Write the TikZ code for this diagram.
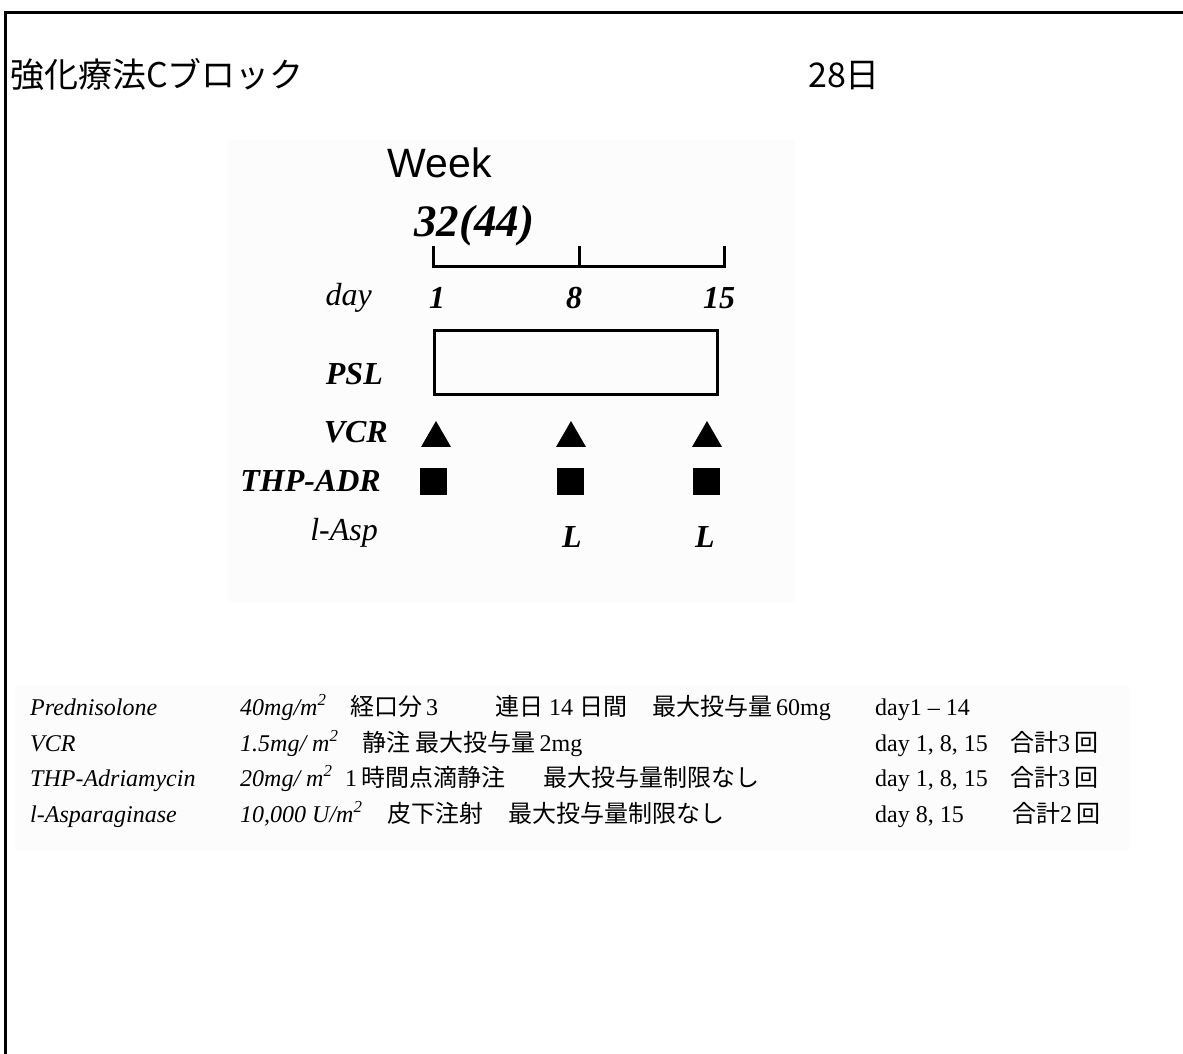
\documentclass[tikz,border=0pt]{standalone}
\usepackage{fontspec}
\setmainfont{Liberation Serif}
\newfontfamily\jpfont{Noto Sans CJK JP}
\newfontfamily\arialfont{Liberation Sans}
\usepackage{tikz}
\usetikzlibrary{positioning,shapes.geometric}
\newcommand\jtext[1]{{\jpfont #1}}
\tikzset{
    heading/.style = {
        anchor=base west,
        inner sep=0pt,
        font=\jpfont\fontsize{34}{34}\selectfont
    },
    rowname/.style = {
        anchor=base east,
        inner sep=0pt,
        font=\fontsize{32}{32}\selectfont\itshape
    },
    daynum/.style = {
        anchor=base,
        inner sep=0pt,
        font=\fontsize{32}{32}\selectfont\bfseries\itshape
    },
    tri/.style = {
        shape=regular polygon,
        regular polygon sides=3,
        fill=black,
        minimum size=34.6pt,
        inner sep=0pt
    },
    sq/.style = {
        shape=rectangle,
        fill=black,
        minimum size=27pt,
        inner sep=0pt
    },
    cell/.style = {
        anchor=base west,
        inner sep=0pt,
        font=\fontsize{24}{24}\selectfont
    },
    imgbg/.style = {
        fill=black!1,
        draw=none
    },
}

\begin{document}
\begin{tikzpicture}[x=1pt,y=-1pt]
                \useasboundingbox (0,0) rectangle (1183,1054);
                % faint backgrounds of the pasted pictures
                \path[imgbg] (228,140) rectangle (795,602);
                \path[imgbg] (15,686) rectangle (1130,850);
                % frame
                \path[draw, line width=3pt] (5,1054) -- (5,12.5) -- (1183,12.5);

                \node[heading] (title) at (10,88) {強化療法Cブロック};
                \node[heading] (length) at (808,88) {28日};

                % schedule
                \node[anchor=base, inner sep=0pt, font=\arialfont\fontsize{41}{41}\selectfont] (week) at (440,177) {Week};
                \node[anchor=base west, inner sep=0pt, font=\fontsize{45}{45}\selectfont\bfseries\itshape] (weekno) at (414,236) {32(44)};

                \coordinate (t1) at (433,246);
                \coordinate (t2) at (579,246);
                \coordinate (t3) at (724,246);
                \coordinate (b1) at (433,266);
                \coordinate (b2) at (579,266);
                \coordinate (b3) at (724,266);
                \path[draw, line width=3pt] (t1) -- (b1) -- (b3) -- (t3);
                \path[draw, line width=3pt] (t2) -- (b2);

                \node[rowname] (day) at (372,305) {day};
                \node[rowname, font=\fontsize{32}{32}\selectfont\bfseries\itshape] (psl) at (383,384) {PSL};
                \node[rowname, font=\fontsize{32}{32}\selectfont\bfseries\itshape] (vcr) at (388,442) {VCR};
                \node[rowname, font=\fontsize{32}{32}\selectfont\bfseries\itshape] (thp) at (381,491) {THP-ADR};
                \node[rowname] (asp) at (378,540) {l-Asp};

                \node[daynum] (d1) at (437,308) {1};
                \node[daynum] (d8) at (574,308) {8};
                \node[daynum] (d15) at (719,308) {15};

                \node[draw, line width=3pt, minimum width=283pt, minimum height=64pt, inner sep=0pt] (pslbar) at (576,362.5) {};

                \node[tri] (vcr1) at (436,438.3) {};
                \node[tri] (vcr8) at (571,438.3) {};
                \node[tri] (vcr15) at (707,438.3) {};

                \node[sq] (thp1) at (433,481.5) {};
                \node[sq] (thp8) at (570,481.5) {};
                \node[sq] (thp15) at (706,481.5) {};

                \node[daynum] (asp8) at (572,547) {L};
                \node[daynum] (asp15) at (705,547) {L};

                % drug table
                \node[cell, font=\fontsize{24}{24}\selectfont\itshape] (pred) at (30,715) {Prednisolone};
                \node[cell, font=\fontsize{24}{24}\selectfont\itshape] (preddose) at (240,715) {40mg/m\textsuperscript{2}};
                \node[cell] (predroute) at (350,715) {\jtext{経口分}\,3};
                \node[cell] (preddays) at (495,715) {\jtext{連日} 14 \jtext{日間}};
                \node[cell] (predmax) at (652,715) {\jtext{最大投与量}\,60mg};
                \node[cell] (predday) at (875,715) {day1 – 14};

                \node[cell, font=\fontsize{24}{24}\selectfont\itshape] (vcrname) at (30,751) {VCR};
                \node[cell, font=\fontsize{24}{24}\selectfont\itshape] (vcrdose) at (240,751) {1.5mg/ m\textsuperscript{2}};
                \node[cell] (vcrroute) at (362,751) {\jtext{静注 最大投与量}\,2mg};
                \node[cell] (vcrday) at (875,751) {day 1, 8, 15};
                \node[cell] (vcrtotal) at (1010,751) {\jtext{合計}3\,\jtext{回}};

                \node[cell, font=\fontsize{24}{24}\selectfont\itshape] (thpname) at (30,786) {THP-Adriamycin};
                \node[cell, font=\fontsize{24}{24}\selectfont\itshape] (thpdose) at (240,786) {20mg/ m\textsuperscript{2}};
                \node[cell] (thproute) at (345,786) {1\,\jtext{時間点滴静注}};
                \node[cell] (thpmax) at (543,786) {\jtext{最大投与量制限なし}};
                \node[cell] (thpday) at (875,786) {day 1, 8, 15};
                \node[cell] (thptotal) at (1010,786) {\jtext{合計}3\,\jtext{回}};

                \node[cell, font=\fontsize{24}{24}\selectfont\itshape] (aspname) at (30,822) {l-Asparaginase};
                \node[cell, font=\fontsize{24}{24}\selectfont\itshape] (aspdose) at (240,822) {10,000 U/m\textsuperscript{2}};
                \node[cell] (asproute) at (387,822) {\jtext{皮下注射}};
                \node[cell] (aspmax) at (508,822) {\jtext{最大投与量制限なし}};
                \node[cell] (aspday) at (875,822) {day 8, 15};
                \node[cell] (asptotal) at (1012,822) {\jtext{合計}2\,\jtext{回}};
            \end{tikzpicture}
\end{document}
